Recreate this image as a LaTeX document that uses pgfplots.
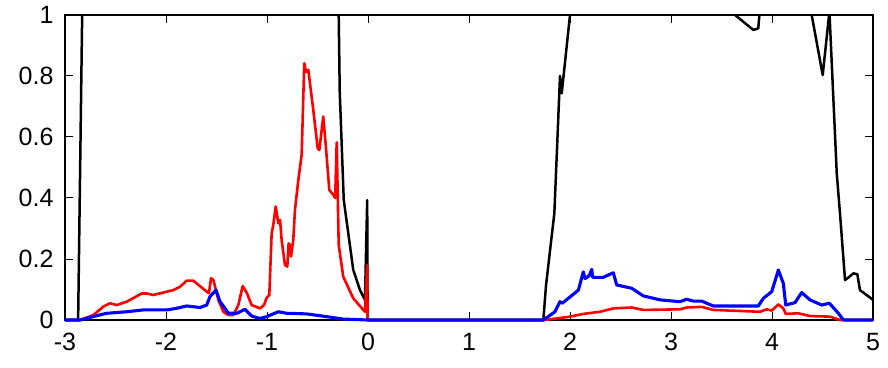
\documentclass[border=0pt]{standalone}
\usepackage{fontspec}
\setmainfont{Liberation Sans}
\usepackage{pgfplots}
\pgfplotsset{compat=1.18}
\begin{document}
\begin{tikzpicture}
\begin{axis}[
  scale only axis, width=808pt, height=305pt,
  xmin=-3, xmax=5, ymin=0, ymax=1,
  xtick={-3,-2,-1,0,1,2,3,4,5},
  ytick={0,0.2,0.4,0.6,0.8,1},
  tick pos=both, tick align=inside,
  major tick length=8pt,
  every tick/.style={black, line width=1pt},
  axis line style={line width=1.3pt},
  /pgf/number format/assume math mode=true,
  tick label style={font=\fontsize{25}{30}\selectfont},
  xticklabel style={yshift=-10pt},
  yticklabel style={xshift=-8pt},
  clip=false,
  unbounded coords=jump,
  every axis plot/.append style={line join=round},
]
\coordinate (sw) at (rel axis cs:0,0);
\coordinate (ne) at (rel axis cs:1,1);
% black
\addplot[black, line width=2.5pt] coordinates {
(-3,0) (-2.87,0) (-2.83,1.0) (-2.5,nan)
(-0.29,1.0) (-0.28,0.75) (-0.24,0.393) (-0.195,0.284) (-0.146,0.164) (-0.079,0.098) (-0.03,0.066) (-0.008,0.393) (-0.004,0)
(1.736,0) (1.763,0.115) (1.845,0.35) (1.894,0.743) (1.901,0.80) (1.918,0.743) (2.0,1.0) (2.5,nan)
(3.634,1.0) (3.815,0.951) (3.864,0.956) (3.875,1.0) (4.0,nan)
(4.393,1.0) (4.502,0.803) (4.565,1.0) (4.567,nan)
(4.57,1.0) (4.641,0.481) (4.673,0.35) (4.723,0.131) (4.76,0.14) (4.805,0.153) (4.845,0.15) (4.871,0.098) (5.0,0.066)
};
% red
\addplot[red, line width=2.6pt] coordinates {
(-3,0) (-2.85,0) (-2.72,0.016) (-2.62,0.044) (-2.554,0.055) (-2.488,0.049) (-2.389,0.06) (-2.24,0.087) (-2.19,0.087) (-2.126,0.082) (-1.928,0.098) (-1.861,0.109) (-1.795,0.129) (-1.73,0.129) (-1.597,0.093) (-1.575,0.088) (-1.554,0.137) (-1.531,0.131) (-1.482,0.066) (-1.432,0.027) (-1.383,0.016) (-1.333,0.016) (-1.284,0.049) (-1.241,0.111) (-1.2,0.089) (-1.152,0.049) (-1.069,0.038) (-1.03,0.049) (-1.003,0.073) (-0.977,0.082) (-0.954,0.284) (-0.938,0.311) (-0.914,0.372) (-0.888,0.317) (-0.871,0.328) (-0.855,0.262) (-0.822,0.18) (-0.799,0.175) (-0.786,0.251) (-0.773,0.246) (-0.762,0.208) (-0.74,0.262) (-0.723,0.361) (-0.69,0.459) (-0.657,0.541) (-0.631,0.842) (-0.614,0.814) (-0.591,0.82) (-0.542,0.689) (-0.498,0.563) (-0.482,0.557) (-0.443,0.667) (-0.42,0.58) (-0.383,0.426) (-0.343,0.41) (-0.325,0.40) (-0.31,0.582) (-0.29,0.246) (-0.245,0.142) (-0.146,0.071) (-0.03,0.027) (-0.008,0.18) (-0.004,0)
(1.75,0) (2.0,0.011) (2.132,0.02) (2.297,0.027) (2.429,0.038) (2.611,0.041) (2.726,0.033) (3.089,0.035) (3.155,0.041) (3.304,0.043) (3.419,0.033) (3.881,0.027) (3.947,0.035) (3.997,0.031) (4.063,0.051) (4.112,0.038) (4.136,0.02) (4.26,0.022) (4.376,0.013) (4.574,0.011) (4.673,0) (5,0)
};
% blue
\addplot[blue, line width=3.1pt] coordinates {
(-3,0) (-2.85,0) (-2.7,0.013) (-2.587,0.022) (-2.389,0.027) (-2.225,0.033) (-1.993,0.033) (-1.9,0.038) (-1.795,0.046) (-1.663,0.041) (-1.597,0.049) (-1.564,0.077) (-1.505,0.098) (-1.465,0.06) (-1.43,0.045) (-1.416,0.038) (-1.383,0.022) (-1.30,0.022) (-1.218,0.035) (-1.152,0.013) (-1.069,0.005) (-1.003,0.011) (-0.888,0.027) (-0.805,0.022) (-0.607,0.02) (-0.41,0.011) (-0.245,0.003) (0,0)
(1.736,0) (1.851,0.027) (1.901,0.06) (1.924,0.055) (2.083,0.098) (2.132,0.158) (2.149,0.136) (2.19,0.145) (2.215,0.166) (2.225,0.14) (2.33,0.14) (2.429,0.155) (2.462,0.115) (2.611,0.104) (2.726,0.079) (2.891,0.066) (3.089,0.06) (3.155,0.068) (3.221,0.062) (3.304,0.062) (3.419,0.046) (3.864,0.046) (3.914,0.071) (3.997,0.093) (4.063,0.164) (4.112,0.12) (4.136,0.049) (4.228,0.057) (4.294,0.09) (4.376,0.066) (4.492,0.049) (4.568,0.055) (4.657,0.022) (4.707,0) (5,0)
};
\end{axis}
\pgfresetboundingbox
\path ([xshift=-65pt,yshift=-47pt]sw) rectangle ([xshift=15pt,yshift=15pt]ne);
\end{tikzpicture}
\end{document}
